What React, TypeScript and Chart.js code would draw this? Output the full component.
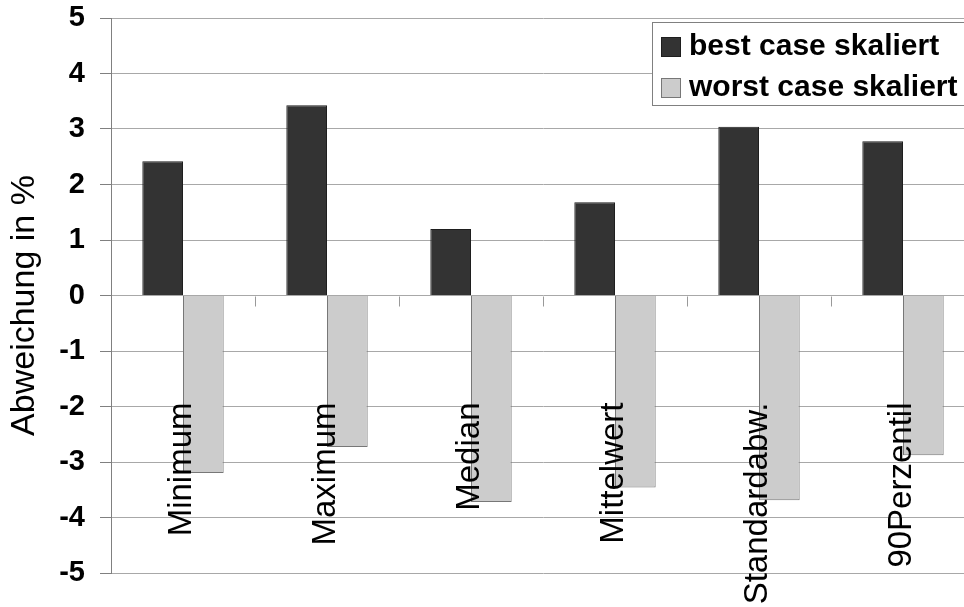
import React, { useEffect, useRef } from "react";
import { Chart, registerables } from "chart.js";

Chart.register(...registerables);

const categories = ["Minimum", "Maximum", "Median", "Mittelwert", "Standardabw.", "90Perzentil"];
const bestCase = [2.42, 3.43, 1.2, 1.68, 3.04, 2.78];
const worstCase = [-3.2, -2.73, -3.72, -3.46, -3.69, -2.88];
const seriesNames = ["best case skaliert", "worst case skaliert"];
const yMin = -5;
const yMax = 5;
const yStep = 1;
const yTitle = "Abweichung in %";

const FONT = '"Liberation Sans", Arial, Helvetica, sans-serif';
const DARK = "#333333";
const DARK_BORDER = "#1e1e1e";
const LIGHT = "#cccccc";
const LIGHT_BORDER = "#777777";

const axisDecor = {
  id: "axisDecor",
  beforeDatasetsDraw(chart: any) {
    const { ctx } = chart;
    const x = chart.scales.x;
    const y = chart.scales.y;
    const y0 = Math.round(y.getPixelForValue(0)) + 0.5;
    ctx.save();
    ctx.strokeStyle = "#999999";
    ctx.lineWidth = 1;
    ctx.beginPath();
    for (let i = 1; i < categories.length; i++) {
      const xm = Math.round((x.getPixelForValue(i - 1) + x.getPixelForValue(i)) / 2) + 0.5;
      ctx.moveTo(xm, y0);
      ctx.lineTo(xm, y0 + 10);
    }
    ctx.stroke();
    // y-axis title
    ctx.fillStyle = "#000000";
    ctx.font = `34px ${FONT}`;
    ctx.textAlign = "center";
    ctx.textBaseline = "middle";
    ctx.translate(25, (y.top + y.bottom) / 2 + 10);
    ctx.rotate(-Math.PI / 2);
    ctx.fillText(yTitle, 0, 0);
    ctx.restore();
  },
  afterDatasetsDraw(chart: any) {
    const { ctx } = chart;
    const x = chart.scales.x;
    const y = chart.scales.y;
    const anchorY = y.getPixelForValue(0) + 107;
    ctx.save();
    ctx.fillStyle = "#000000";
    ctx.font = `33px ${FONT}`;
    ctx.textAlign = "right";
    ctx.textBaseline = "middle";
    categories.forEach((c, i) => {
      const cx = x.getPixelForValue(i) - 1;
      ctx.save();
      ctx.translate(cx, anchorY);
      ctx.rotate(-Math.PI / 2);
      ctx.fillText(c, 0, 0);
      ctx.restore();
    });
    ctx.restore();
  },
  afterDraw(chart: any) {
    const { ctx } = chart;
    ctx.save();
    const bx = 652.5;
    const by = 22.5;
    const bw = 400;
    const bh = 83;
    ctx.fillStyle = "#ffffff";
    ctx.fillRect(bx, by, bw, bh);
    ctx.strokeStyle = "#808080";
    ctx.lineWidth = 1;
    ctx.strokeRect(bx, by, bw, bh);
    const fills = [DARK, LIGHT];
    const borders = [DARK_BORDER, LIGHT_BORDER];
    const baselines = [55, 96];
    ctx.font = `bold 30px ${FONT}`;
    ctx.textAlign = "left";
    ctx.textBaseline = "alphabetic";
    seriesNames.forEach((name, i) => {
      const sy = baselines[i] - 18;
      ctx.fillStyle = fills[i];
      ctx.fillRect(661, sy, 20, 20);
      ctx.strokeStyle = borders[i];
      ctx.strokeRect(661.5, sy + 0.5, 19, 19);
      ctx.fillStyle = "#000000";
      ctx.fillText(name, 689, baselines[i]);
    });
    ctx.restore();
  },
};

export default function App() {
  const canvasRef = useRef<HTMLCanvasElement | null>(null);

  useEffect(() => {
    document.body.style.margin = "0";
    const canvas = canvasRef.current;
    if (!canvas) return;
    const chart = new Chart(canvas, {
      type: "bar",
      data: {
        labels: categories,
        datasets: [
          {
            label: seriesNames[0],
            data: bestCase,
            backgroundColor: DARK,
            borderColor: DARK_BORDER,
            borderWidth: 1,
            categoryPercentage: 0.565,
            barPercentage: 1,
          },
          {
            label: seriesNames[1],
            data: worstCase,
            backgroundColor: LIGHT,
            borderColor: LIGHT_BORDER,
            borderWidth: 1,
            categoryPercentage: 0.565,
            barPercentage: 1,
          },
        ],
      },
      options: {
        responsive: false,
        maintainAspectRatio: false,
        animation: false,
        layout: { padding: { top: 18, bottom: 34, left: 0, right: 5 } },
        plugins: {
          legend: { display: false },
          tooltip: { enabled: false },
          title: { display: false },
        },
        scales: {
          x: {
            display: false,
            offset: true,
          },
          y: {
            min: yMin,
            max: yMax,
            afterFit(scale: any) {
              scale.width = 111;
              scale.paddingTop = 0;
              scale.paddingBottom = 0;
            },
            ticks: {
              stepSize: yStep,
              color: "#000000",
              padding: 15,
              font: { family: FONT, size: 29, weight: "bold" },
            },
            grid: {
              color: "#a8a8a8",
              lineWidth: 1,
              drawTicks: true,
              tickLength: 11,
              tickColor: "#808080",
            },
            border: { display: true, color: "#808080", width: 1 },
            title: { display: false },
          },
        },
      },
      plugins: [axisDecor],
    });
    return () => chart.destroy();
  }, []);

  return (
    <div style={{ width: 964, height: 607, overflow: "hidden", position: "relative", background: "#ffffff" }}>
      <canvas ref={canvasRef} width={980} height={607} style={{ width: 980, height: 607, display: "block" }} />
    </div>
  );
}
